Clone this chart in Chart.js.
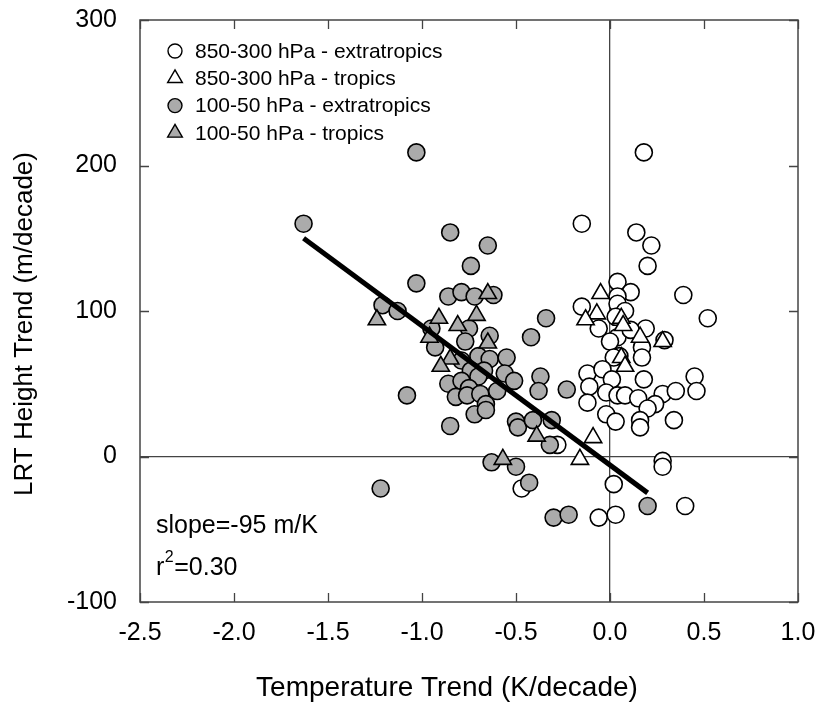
<!DOCTYPE html>
<html>
<head>
<meta charset="utf-8">
<title>LRT Height Trend</title>
<script src="https://cdn.jsdelivr.net/npm/chart.js@4.4.0/dist/chart.umd.min.js"></script>
<style>
    html, body { margin: 0; padding: 0; background: #fff; }
    #wrap { width: 815px; height: 702px; }
</style>
</head>
<body>
<div id="wrap"><canvas id="chart-lrt" width="815" height="702"></canvas></div>
<script>
// tick labels
var xTicks = [-2.5, -2.0, -1.5, -1.0, -0.5, 0.0, 0.5, 1.0];
var yTicks = [-100, 0, 100, 200, 300];

// 850-300 hPa - extratropics (temperature trend, height trend)
var tropoExtraTemp = [0.18, -0.15, 0.14, 0.22, 0.20, 0.39, 0.04, 0.11, 0.04, -0.15, 0.04, 0.08, 0.52, 0.03, -0.06,
    0.04, 0.19, 0.11, 0.00, 0.17, 0.17, 0.29, 0.05, 0.02, -0.12, -0.04, 0.01, 0.18, 0.45, -0.11, -0.02, 0.04,
    0.08, 0.15, 0.28, 0.35, 0.46, -0.12, 0.24, 0.20, -0.02, 0.03, 0.16, 0.34, 0.16, -0.28, 0.28, 0.28, 0.02,
    -0.47, 0.40, -0.06, 0.03];
var tropoExtraHeight = [209, 160, 154, 145, 131, 111, 120, 113, 110, 103, 105, 100, 95, 96, 88,
    82, 88, 87, 79, 75, 68, 80, 69, 68, 57, 60, 53, 53, 55, 48, 44, 42,
    42, 40, 43, 45, 45, 37, 36, 33, 29, 24, 25, 25, 20, 8, -3, -7, -19,
    -22, -34, -42, -40];

// 850-300 hPa - tropics
var tropoTropTemp = [-0.05, -0.07, -0.13, 0.06, 0.07, 0.16, 0.28, 0.06, 0.08, -0.09, -0.16];
var tropoTropHeight = [112, 98, 94, 95, 90, 82, 79, 68, 62, 13, -2];

// 100-50 hPa - extratropics
var stratoExtraTemp = [-1.63, -1.03, -1.03, -1.21, -1.13, -1.08, -1.22, -0.85, -0.65, -0.74, -0.86, -0.79, -0.72,
    -0.62, -0.95, -0.75, -0.64, -0.42, -0.34, -0.93, -0.77, -0.79, -0.70, -0.64, -0.55, -0.74, -0.67, -0.56,
    -0.51, -0.37, -0.38, -0.23, -0.86, -0.79, -0.70, -0.75, -0.82, -0.76, -0.69, -0.60, -0.66, -0.72, -0.66,
    -0.85, -0.50, -0.49, -0.41, -0.31, -0.32, -0.63, -0.50, -0.43, 0.20, -0.30, -0.22];
var stratoExtraHeight = [160, 209, 119, 104, 100, 42, -22, 154, 145, 131, 110, 113, 110,
    111, 88, 88, 83, 82, 95, 75, 79, 66, 69, 67, 68, 59, 59, 57,
    52, 55, 45, 46, 50, 52, 55, 47, 41, 42, 43, 45, 36, 29, 32,
    21, 24, 20, 25, 25, 8, -4, -7, -18, -34, -42, -40];

// 100-50 hPa - tropics
var stratoTropTemp = [-1.24, -0.91, -0.81, -0.71, -0.65, -0.96, -0.65, -0.85, -0.90, -0.39, -0.57];
var stratoTropHeight = [94, 95, 90, 97, 112, 82, 78, 67, 62, 14, -2];

// regression line endpoints
var fitTemp = [-1.63, 0.20];
var fitHeight = [150, -25];

var FONT = "'Liberation Sans', Arial, Helvetica, sans-serif";
var GRIS = '#ababab';

function puntos(xs, ys) {
    var out = [];
    for (var i = 0; i < xs.length; i++) {
        out.push({ x: xs[i], y: ys[i] });
    }
    return out;
}

function serie(label, xs, ys, fill, style, radius, order) {
    return {
        label: label,
        data: puntos(xs, ys),
        backgroundColor: fill,
        borderColor: '#000',
        borderWidth: 1.6,
        pointStyle: style,
        pointRadius: radius,
        pointHoverRadius: radius,
        showLine: false,
        order: order
    };
}

// tick labels must not push the plot area inwards
function sinRelleno(scale) {
    scale.paddingLeft = 0;
    scale.paddingRight = 0;
    scale.paddingTop = 0;
    scale.paddingBottom = 0;
}

var leyenda = [
    { text: '850-300 hPa - extratropics', fill: '#fff', style: 'circle', r: 7 },
    { text: '850-300 hPa - tropics', fill: '#fff', style: 'triangle', r: 8.5 },
    { text: '100-50 hPa - extratropics', fill: GRIS, style: 'circle', r: 7 },
    { text: '100-50 hPa - tropics', fill: GRIS, style: 'triangle', r: 8.5 }
];

var marcoPlugin = {
    id: 'marco',
    afterDraw: function (chart) {
        var ctx = chart.ctx;
        var a = chart.chartArea;
        var xs = chart.scales.x;
        var ys = chart.scales.y;
        ctx.save();

        // inner ticks on all four sides
        ctx.strokeStyle = '#444';
        ctx.lineWidth = 1.3;
        ctx.beginPath();
        xTicks.forEach(function (v) {
            var px = Math.round(xs.getPixelForValue(v)) + 0.5;
            ctx.moveTo(px, a.bottom); ctx.lineTo(px, a.bottom - 9);
            ctx.moveTo(px, a.top); ctx.lineTo(px, a.top + 9);
        });
        yTicks.forEach(function (v) {
            var py = Math.round(ys.getPixelForValue(v)) + 0.5;
            ctx.moveTo(a.left, py); ctx.lineTo(a.left + 9, py);
            ctx.moveTo(a.right, py); ctx.lineTo(a.right - 9, py);
        });
        ctx.stroke();

        // frame
        ctx.strokeStyle = '#444';
        ctx.lineWidth = 1.5;
        ctx.strokeRect(a.left, a.top, a.right - a.left, a.bottom - a.top);

        // legend
        ctx.textBaseline = 'middle';
        ctx.textAlign = 'left';
        ctx.font = '21px ' + FONT;
        leyenda.forEach(function (item, i) {
            var y = 51 + i * 27.3;
            ctx.fillStyle = item.fill;
            ctx.strokeStyle = '#000';
            ctx.lineWidth = 1.4;
            Chart.helpers.drawPoint(ctx, { pointStyle: item.style, radius: item.r, rotation: 0, borderWidth: 1.4 }, 175, y);
            ctx.fillStyle = '#000';
            ctx.fillText(item.text, 195, y + 1);
        });

        // slope and r^2
        ctx.textBaseline = 'alphabetic';
        ctx.font = '25px ' + FONT;
        ctx.fillStyle = '#000';
        ctx.fillText('slope=-95 m/K', 156, 533);
        ctx.fillText('r', 156, 575);
        var wr = ctx.measureText('r').width;
        ctx.font = '16px ' + FONT;
        ctx.fillText('2', 156 + wr + 0.5, 562);
        var w2 = ctx.measureText('2').width;
        ctx.font = '25px ' + FONT;
        ctx.fillText('=0.30', 156 + wr + w2 + 1, 575);

        // axis titles
        ctx.textAlign = 'center';
        ctx.textBaseline = 'middle';
        ctx.font = '28px ' + FONT;
        ctx.fillText('Temperature Trend (K/decade)', 447, 688);

        ctx.translate(25, 324);
        ctx.rotate(-Math.PI / 2);
        ctx.font = '26px ' + FONT;
        ctx.fillText('LRT Height Trend (m/decade)', 0, 0);

        ctx.restore();
    }
};

var chart = new Chart(document.getElementById('chart-lrt').getContext('2d'), {
    type: 'scatter',
    data: {
        datasets: [
            {
                type: 'line',
                label: 'fit',
                data: puntos(fitTemp, fitHeight),
                borderColor: '#000',
                borderWidth: 5,
                borderCapStyle: 'butt',
                pointRadius: 0,
                fill: false,
                order: 0
            },
            serie('100-50 hPa - tropics', stratoTropTemp, stratoTropHeight, GRIS, 'triangle', 10, 1),
            serie('100-50 hPa - extratropics', stratoExtraTemp, stratoExtraHeight, GRIS, 'circle', 8.5, 2),
            serie('850-300 hPa - tropics', tropoTropTemp, tropoTropHeight, '#fff', 'triangle', 10, 3),
            serie('850-300 hPa - extratropics', tropoExtraTemp, tropoExtraHeight, '#fff', 'circle', 8.5, 4)
        ]
    },
    options: {
        responsive: false,
        animation: false,
        layout: { padding: { top: 20, right: 17, left: 0, bottom: 0 } },
        plugins: {
            legend: { display: false },
            tooltip: { enabled: false }
        },
        scales: {
            x: {
                type: 'linear',
                min: -2.5,
                max: 1.0,
                afterFit: function (scale) { scale.height = 100; sinRelleno(scale); },
                afterBuildTicks: function (scale) {
                    scale.ticks = xTicks.map(function (v) { return { value: v }; });
                },
                ticks: {
                    padding: 16,
                    color: '#000',
                    font: { family: FONT, size: 25 },
                    maxRotation: 0,
                    callback: function (v) { return Number(v).toFixed(1); }
                },
                grid: {
                    drawTicks: false,
                    lineWidth: 1.3,
                    color: function (c) { return c.tick && c.tick.value === 0 ? '#444' : 'rgba(0,0,0,0)'; }
                },
                border: { display: false },
                title: { display: false }
            },
            y: {
                type: 'linear',
                min: -100,
                max: 300,
                afterFit: function (scale) { scale.width = 140; sinRelleno(scale); },
                afterBuildTicks: function (scale) {
                    scale.ticks = yTicks.map(function (v) { return { value: v }; });
                },
                ticks: {
                    padding: 23,
                    color: '#000',
                    font: { family: FONT, size: 25 },
                    callback: function (v) { return String(v); }
                },
                grid: {
                    drawTicks: false,
                    lineWidth: 1.3,
                    color: function (c) { return c.tick && c.tick.value === 0 ? '#444' : 'rgba(0,0,0,0)'; }
                },
                border: { display: false },
                title: { display: false }
            }
        }
    },
    plugins: [marcoPlugin]
});
</script>
</body>
</html>
